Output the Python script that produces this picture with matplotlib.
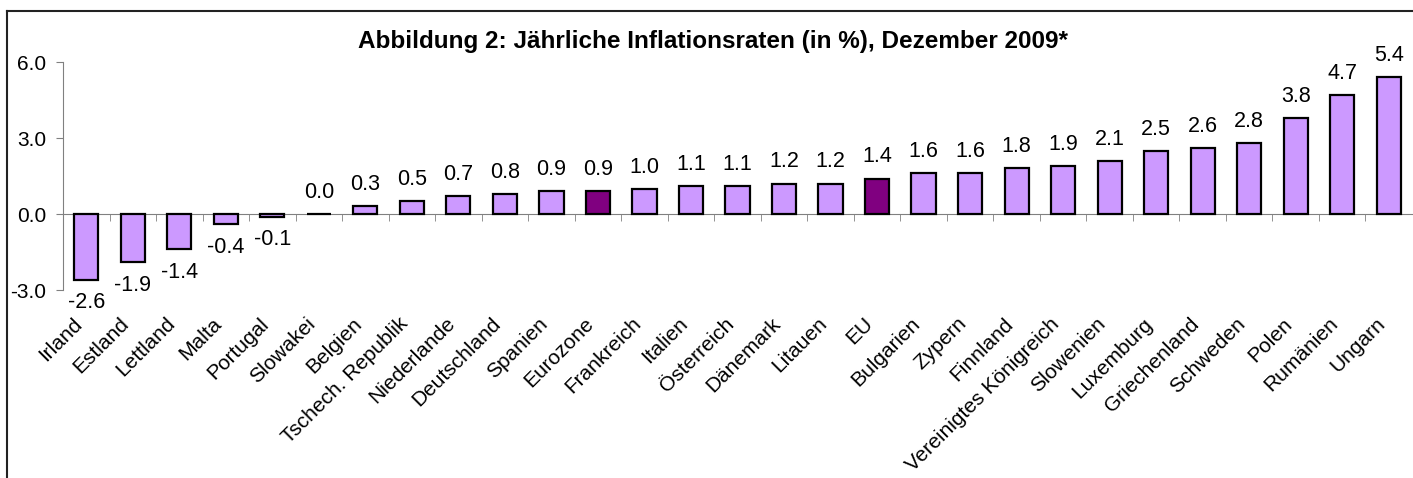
import numpy as np
import matplotlib.pyplot as plt
from matplotlib.lines import Line2D

plt.rcParams['font.family'] = ['Liberation Sans', 'DejaVu Sans']

countries = ["Irland", "Estland", "Lettland", "Malta", "Portugal", "Slowakei",
             "Belgien", "Tschech. Republik", "Niederlande", "Deutschland",
             "Spanien", "Eurozone", "Frankreich", "Italien", "Österreich",
             "Dänemark", "Litauen", "EU", "Bulgarien", "Zypern", "Finnland",
             "Vereinigtes Königreich", "Slowenien", "Luxemburg", "Griechenland",
             "Schweden", "Polen", "Rumänien", "Ungarn"]
rates = [-2.6, -1.9, -1.4, -0.4, -0.1, 0.0, 0.3, 0.5, 0.7, 0.8, 0.9, 0.9, 1.0,
         1.1, 1.1, 1.2, 1.2, 1.4, 1.6, 1.6, 1.8, 1.9, 2.1, 2.5, 2.6, 2.8, 3.8,
         4.7, 5.4]
highlight = ["Eurozone", "EU"]
yticks = [-3.0, 0.0, 3.0, 6.0]

W, H = 1413, 478
fig = plt.figure(figsize=(W / 100, H / 100), dpi=100)
ax = fig.add_axes([63 / W, 1 - 290 / H, (1412 - 63) / W, (290 - 62) / H])

x = np.arange(len(countries))
colors = ['#800080' if c in highlight else '#CC99FF' for c in countries]
ax.bar(x, rates, width=0.52, color=colors, edgecolor='black', linewidth=1.6, zorder=3)

for xi, v in zip(x, rates):
    if v < 0:
        ax.annotate(f"{v:.1f}", (xi, v), xytext=(0, -9), textcoords='offset points',
                    ha='center', va='top', fontsize=15.5)
    else:
        ax.annotate(f"{v:.1f}", (xi, v), xytext=(0, 8), textcoords='offset points',
                    ha='center', va='bottom', fontsize=15.5)

ax.set_xlim(-0.5, len(countries) - 0.5)
ax.set_ylim(-3, 6)
ax.set_yticks(yticks)
ax.set_yticklabels([f"{t:.1f}" for t in yticks], fontsize=15)
ax.tick_params(axis='y', direction='out', length=5, color='#808080', pad=7)

for s in ['top', 'right']:
    ax.spines[s].set_visible(False)
ax.spines['left'].set_color('#808080')
ax.spines['bottom'].set_color('#808080')
ax.spines['bottom'].set_position(('data', 0))
ax.spines['bottom'].set_zorder(2)

ax.set_xticks(x)
ax.set_xticklabels(countries, rotation=45, ha='right', fontsize=15)
ax.tick_params(axis='x', which='major', length=0, pad=72)
ax.set_xticks(np.arange(0.5, len(countries) - 0.5, 1.0), minor=True)
ax.tick_params(axis='x', which='minor', direction='out', length=5, color='#808080')

fig.text(713 / W, 1 - 48 / H, "Abbildung 2: Jährliche Inflationsraten (in %), Dezember 2009*",
         ha='center', va='baseline', fontsize=17.5, fontweight='bold')

# chart frame (left and top edges visible)
fig.add_artist(Line2D([7 / W, 7 / W], [0, 1 - 11 / H], color='#222222', lw=1.5,
                      transform=fig.transFigure))
fig.add_artist(Line2D([7 / W, 1], [1 - 11 / H, 1 - 11 / H], color='#222222', lw=1.5,
                      transform=fig.transFigure))

fig.savefig("out.png", dpi=100)
